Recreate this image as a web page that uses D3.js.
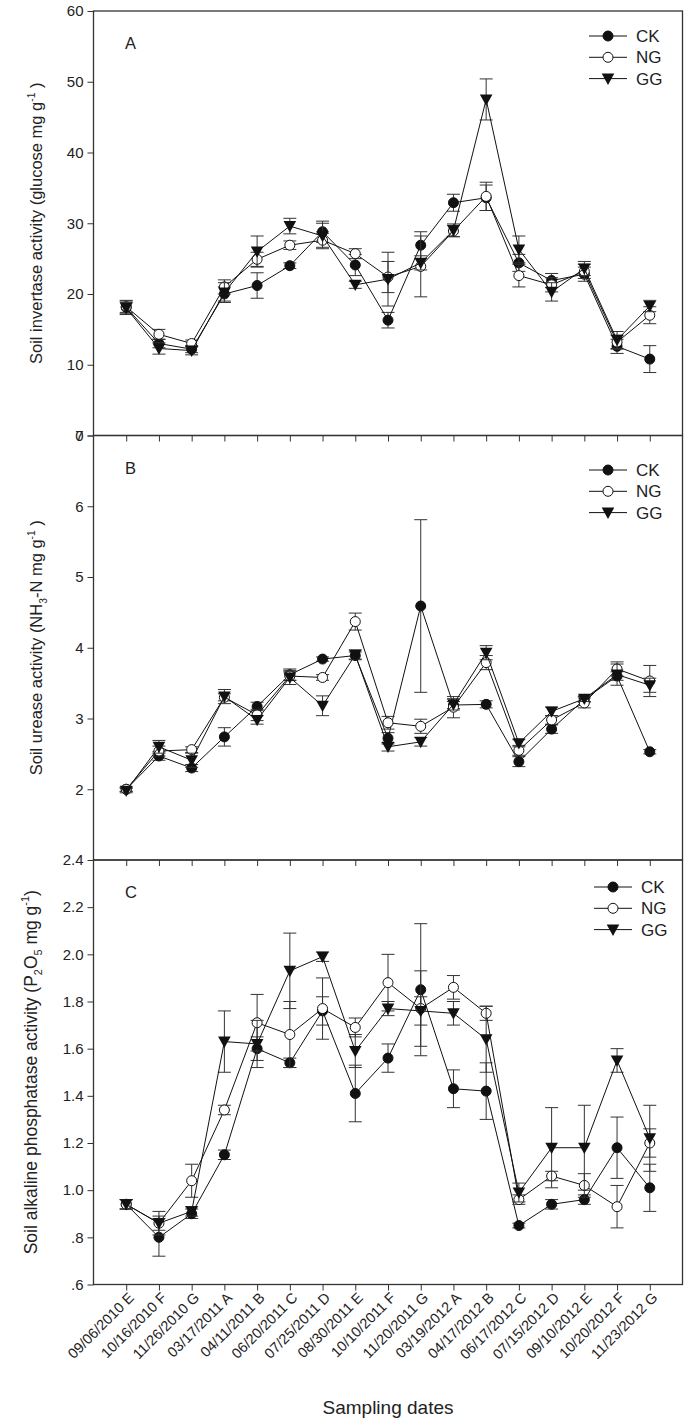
<!DOCTYPE html>
<html><head><meta charset="utf-8">
<script src="https://cdn.jsdelivr.net/npm/d3@7"></script>
<style>
html,body{margin:0;padding:0;background:#fff;}
text{font-family:Arial,"Liberation Sans",sans-serif;fill:#222;}
</style></head>
<body><svg id="c" width="690" height="1427"></svg>
<script>
const dates = ["09/06/2010 E","10/16/2010 F","11/26/2010 G","03/17/2011 A","04/11/2011 B","06/20/2011 C","07/25/2011 D","08/30/2011 E","10/10/2011 F","11/20/2011 G","03/19/2012 A","04/17/2012 B","06/17/2012 C","07/15/2012 D","09/10/2012 E","10/20/2012 F","11/23/2012 G"];
const seriesNames = ["CK","NG","GG"];

// Panel A: invertase
const invCK = [18.1,13.0,12.2,20.0,21.2,24.0,28.8,24.1,16.3,26.9,32.9,33.6,24.4,21.9,22.8,12.6,10.8];
const invNG = [18.2,14.3,13.0,21.0,24.9,26.9,27.6,25.7,22.4,23.9,28.9,33.8,22.6,21.3,23.2,13.2,17.0];
const invGG = [18.0,12.3,12.0,20.2,26.0,29.6,28.2,21.3,22.1,24.4,29.0,47.5,26.3,20.3,23.6,13.5,18.3];
const invCKerr = [1.0,0.6,0.5,1.0,1.8,0.4,1.5,1.5,1.1,1.9,1.2,1.8,1.2,1.0,1.0,1.0,1.9];
const invNGerr = [0.8,0.7,0.5,1.0,1.0,0.6,1.0,0.7,2.2,4.3,0.8,2.0,1.6,1.0,1.0,1.0,1.2];
const invGGerr = [0.8,0.8,0.6,1.4,2.2,1.1,1.8,0.5,3.8,1.0,0.9,2.9,1.9,1.3,1.0,1.2,0.8];
const invTicks = [0,10,20,30,40,50,60];

// Panel B: urease
const ureCK = [2.0,2.47,2.30,2.74,3.17,3.62,3.84,3.89,2.72,4.59,3.19,3.20,2.39,2.85,3.27,3.60,2.53];
const ureNG = [2.0,2.54,2.56,3.30,3.05,3.60,3.58,4.37,2.94,2.89,3.16,3.79,2.55,2.98,3.22,3.70,3.53];
const ureGG = [1.98,2.60,2.41,3.31,2.98,3.58,3.18,3.90,2.60,2.67,3.20,3.93,2.65,3.10,3.28,3.62,3.47];
const ureCKerr = [0.03,0.06,0.05,0.13,0.06,0.08,0.03,0.05,0.08,1.22,0.05,0.05,0.07,0.06,0.04,0.06,0.03];
const ureNGerr = [0.03,0.07,0.04,0.05,0.08,0.06,0.04,0.12,0.09,0.10,0.15,0.10,0.07,0.06,0.07,0.10,0.22];
const ureGGerr = [0.03,0.09,0.10,0.10,0.06,0.10,0.14,0.07,0.06,0.06,0.08,0.10,0.05,0.06,0.04,0.15,0.10];
const ureTicks = [2,3,4,5,6,7];

// Panel C: alkaline phosphatase
const phoCK = [0.94,0.80,0.90,1.15,1.60,1.54,1.76,1.41,1.56,1.85,1.43,1.42,0.85,0.94,0.96,1.18,1.01];
const phoNG = [0.94,0.86,1.04,1.34,1.71,1.66,1.77,1.69,1.88,1.77,1.86,1.75,0.96,1.06,1.02,0.93,1.20];
const phoGG = [0.94,0.86,0.91,1.63,1.62,1.93,1.99,1.59,1.77,1.76,1.75,1.64,0.99,1.18,1.18,1.55,1.22];
const phoCKerr = [0.02,0.08,0.02,0.02,0.05,0.02,0.06,0.12,0.06,0.28,0.08,0.12,0.01,0.02,0.02,0.13,0.10];
const phoNGerr = [0.02,0.05,0.07,0.02,0.12,0.14,0.13,0.04,0.12,0.16,0.05,0.03,0.02,0.02,0.05,0.09,0.06];
const phoGGerr = [0.02,0.03,0.02,0.13,0.10,0.16,0.02,0.07,0.03,0.06,0.05,0.14,0.04,0.17,0.18,0.05,0.14];
const phoTicks = [0.6,0.8,1.0,1.2,1.4,1.6,1.8,2.0,2.2,2.4];

const svg = d3.select("#c");
const L = 93.5, R = 682.5;
const x = d3.scaleLinear().domain([0, dates.length + 1]).range([L, R]);

const panels = [
  {top:11, bot:435.5, dom:[0,60], ticks:invTicks, fmt:d=>String(d), label:"A",
   data:[invCK,invNG,invGG], err:[invCKerr,invNGerr,invGGerr],
   legend:{y:36, x:608}, title:[["Soil invertase activity (glucose mg g",0],["-1",1],[" )",0]], tx:42, fs:16.5},
  {top:435.5, bot:860, dom:[1,7], ticks:ureTicks, fmt:d=>String(d), label:"B",
   data:[ureCK,ureNG,ureGG], err:[ureCKerr,ureNGerr,ureGGerr],
   legend:{y:470, x:608}, title:[["Soil urease activity (NH",0],["3",-1],["-N mg g",0],["-1",1],[" )",0]], tx:42, fs:16.5},
  {top:860, bot:1284.5, dom:[0.6,2.4], ticks:phoTicks, fmt:d=>{const s=d.toFixed(1); return d<1? s.slice(1): s;}, label:"C",
   data:[phoCK,phoNG,phoGG], err:[phoCKerr,phoNGerr,phoGGerr],
   legend:{y:887, x:613}, title:[["Soil alkaline phosphatase activity (P",0],["2",-1],["O",0],["5",-1],[" mg g",0],["-1",1],[")",0]], tx:37, fs:17.5}
];

function marker(g, kind, cx, cy){
  if(kind===0){
    g.append("circle").attr("cx",cx).attr("cy",cy).attr("r",5).attr("fill","#111").attr("stroke","#111");
  } else if(kind===1){
    g.append("circle").attr("cx",cx).attr("cy",cy).attr("r",5).attr("fill","#fff").attr("stroke","#111").attr("stroke-width",1);
  } else {
    const s=6.3;
    g.append("path").attr("d",`M${cx-s},${cy-s*0.8}L${cx+s},${cy-s*0.8}L${cx},${cy+s*1.0}Z`).attr("fill","#111");
  }
}

panels.forEach(p=>{
  const y = d3.scaleLinear().domain(p.dom).range([p.bot, p.top]);
  const g = svg.append("g");
  g.append("rect").attr("x",L).attr("y",p.top).attr("width",R-L).attr("height",p.bot-p.top)
    .attr("fill","none").attr("stroke","#333").attr("stroke-width",1.3);
  const ya = d3.axisLeft(y).tickValues(p.ticks).tickFormat(p.fmt).tickSize(6).tickPadding(4);
  const yg = g.append("g").attr("transform",`translate(${L},0)`).call(ya);
  yg.select(".domain").remove();
  yg.selectAll("line").attr("stroke","#333");
  yg.selectAll("text").attr("font-size",15).attr("fill","#222").attr("font-family","Arial, 'Liberation Sans', sans-serif");
  const xa = d3.axisBottom(x).tickValues(d3.range(1, dates.length+1)).tickFormat("").tickSize(6);
  const xg = g.append("g").attr("transform",`translate(0,${p.bot})`).call(xa);
  xg.select(".domain").remove();
  xg.selectAll("line").attr("stroke","#333");
  g.append("text").attr("x",125).attr("y",p.top+38).attr("font-size",16.5).text(p.label);
  const t = g.append("text").attr("transform",`translate(${p.tx},${(p.top+p.bot)/2}) rotate(-90)`)
    .attr("text-anchor","middle").attr("font-size",p.fs);
  let cum = 0;
  p.title.forEach(([s,k])=>{
    const ts = t.append("tspan").text(s);
    const target = k===1? -p.fs*0.45 : (k===-1? p.fs*0.3 : 0);
    if(k!==0) ts.attr("font-size",p.fs*0.62);
    ts.attr("dy", target - cum);
    cum = target;
  });
  p.data.forEach((vals,si)=>{
    const errs = p.err[si];
    const sg = g.append("g");
    vals.forEach((v,i)=>{
      const cx = x(i+1), e = errs[i];
      const y1 = y(v+e), y2 = y(v-e);
      sg.append("line").attr("x1",cx).attr("x2",cx).attr("y1",y1).attr("y2",y2).attr("stroke","#333").attr("stroke-width",1);
      [y1,y2].forEach(yy=> sg.append("line").attr("x1",cx-6.5).attr("x2",cx+6.5).attr("y1",yy).attr("y2",yy).attr("stroke","#333").attr("stroke-width",1));
    });
    const line = d3.line().x((d,i)=>x(i+1)).y(d=>y(d));
    sg.append("path").datum(vals).attr("d",line).attr("fill","none").attr("stroke","#111").attr("stroke-width",1);
    vals.forEach((v,i)=> marker(sg, si, x(i+1), y(v)));
  });
  const lg = g.append("g");
  seriesNames.forEach((n,i)=>{
    const ly = p.legend.y + i*21.3;
    lg.append("line").attr("x1",p.legend.x-19).attr("x2",p.legend.x+19).attr("y1",ly).attr("y2",ly).attr("stroke","#111");
    marker(lg, i, p.legend.x, ly);
    lg.append("text").attr("x",p.legend.x+28).attr("y",ly).attr("dy","0.36em").attr("font-size",17).text(n);
  });
});

svg.append("g").selectAll("text").data(dates).join("text")
  .attr("transform",(d,i)=>`translate(${x(i+1)+5},${1295}) rotate(-45)`)
  .attr("text-anchor","end").attr("dy","0.35em").attr("font-size",14.5).text(d=>d);

svg.append("text").attr("x",(L+R)/2).attr("y",1414).attr("text-anchor","middle").attr("font-size",19).text("Sampling dates");
</script></body></html>
